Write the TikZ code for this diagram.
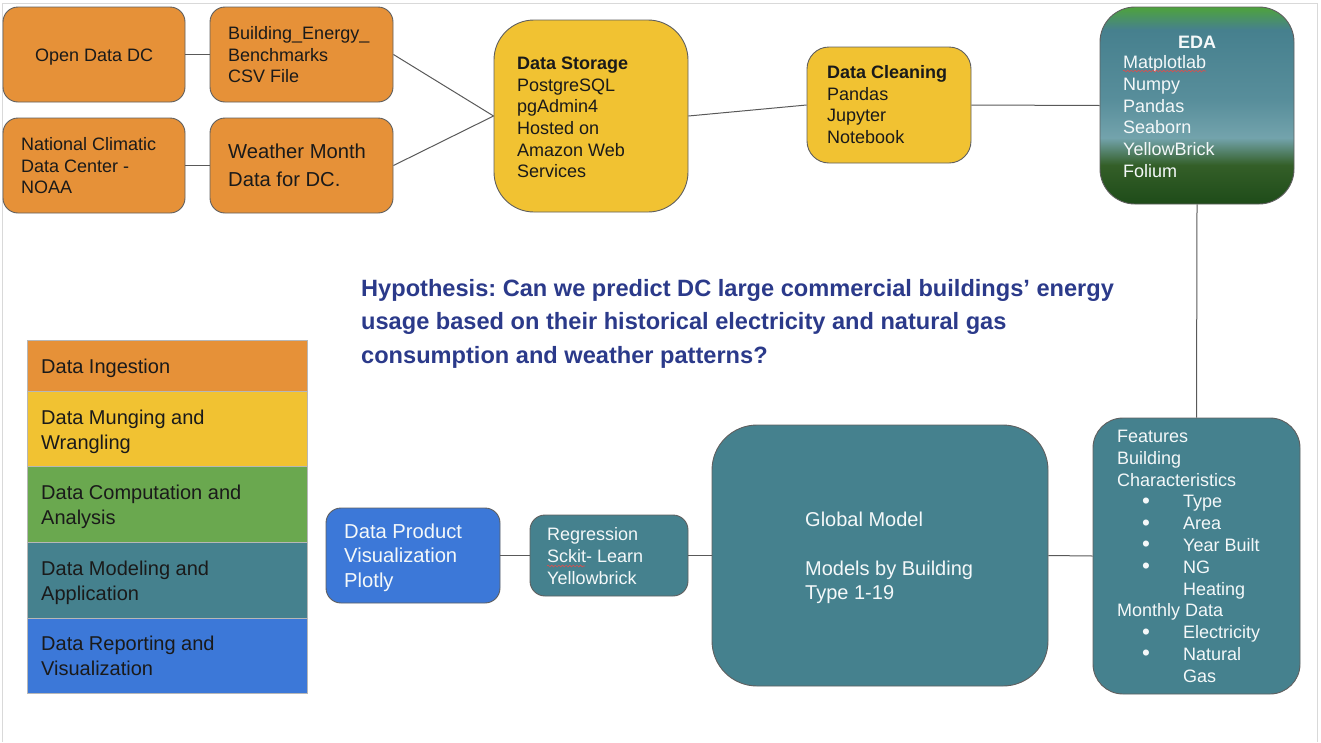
\documentclass[tikz,border=0pt]{standalone}
\usepackage{fontspec}
\setmainfont{Liberation Sans}
\usetikzlibrary{decorations.pathmorphing}
\definecolor{cOrange}{HTML}{E69138}
\definecolor{cYellow}{HTML}{F1C232}
\definecolor{cGreen}{HTML}{6AA84F}
\definecolor{cTeal}{HTML}{45818E}
\definecolor{cBlue}{HTML}{3C78D8}
\definecolor{cBorder}{HTML}{5F5F5F}
\definecolor{cLine}{HTML}{595959}
\definecolor{cHyp}{HTML}{2B3A8A}
\definecolor{cFrame}{HTML}{D9D9D9}
\definecolor{cLegBorder}{HTML}{B7B7B7}
\definecolor{cWhiteText}{HTML}{F4F8F9}
\definecolor{cDark}{HTML}{1A1A1A}
\definecolor{cSpell}{RGB}{215,80,80}
\definecolor{edaA}{RGB}{78,163,60}
\definecolor{edaB}{RGB}{70,128,142}
\definecolor{edaC}{RGB}{88,142,155}
\definecolor{edaD}{RGB}{115,163,172}
\definecolor{edaE}{RGB}{52,95,40}
\definecolor{edaF}{RGB}{30,75,25}
\pgfdeclareverticalshading{edashade}{100bp}{color(0bp)=(edaF); color(25bp)=(edaF); color(34.9bp)=(edaE); color(41.8bp)=(edaD); color(51.4bp)=(edaC); color(69.2bp)=(edaB); color(75bp)=(edaA); color(100bp)=(edaA)}
\tikzset{
  box/.style={draw=cBorder, line width=0.9pt, inner sep=0pt},
  legbox/.style={draw=cLegBorder, line width=0.8pt, inner sep=0pt, minimum width=280pt},
  conn/.style={draw=cLine, line width=1pt},
  txt/.style={anchor=base west, inner sep=0pt, text width=800pt, align=left, text=cDark,
    font=\fontsize{18}{21.7}\selectfont,
    execute at begin node={\spaceskip=0pt\xspaceskip=0pt\frenchspacing}},
  wtxt/.style={txt, text=cWhiteText},
  legtxt/.style={txt, font=\fontsize{20}{25}\selectfont},
  spell/.style={draw=cSpell, line width=0.6pt, decorate,
    decoration={snake, amplitude=0.9pt, segment length=3.6pt}}
}
\newcommand{\bul}[1]{\hspace*{25pt}\makebox[41pt][l]{\raisebox{-0.5pt}{\scalebox{1.25}{•}}}#1}
\begin{document}
\begin{tikzpicture}[x=1pt, y=-1pt]
\useasboundingbox (0,0) rectangle (1321,742);
% frame
\draw[cFrame, line width=1pt] (2.5,742) -- (2.5,3) -- (1317.5,3) -- (1317.5,742);

% ingestion boxes
\node[box, fill=cOrange, rounded corners=15pt, minimum width=182pt, minimum height=95pt] (odc) at (94,54.5) {};
\node[box, fill=cOrange, rounded corners=15pt, minimum width=183pt, minimum height=95pt] (bee) at (301.5,54.5) {};
\node[box, fill=cOrange, rounded corners=15pt, minimum width=182pt, minimum height=95pt] (ncdc) at (94,165.5) {};
\node[box, fill=cOrange, rounded corners=15pt, minimum width=183pt, minimum height=95pt] (wmd) at (301.5,165.5) {};
\node[txt] (odct) at (35,61.45) {Open Data DC};
\node[txt] (beet) at (228,39.45) {Building\_Energy\_\\Benchmarks\\CSV File};
\node[txt] (ncdct) at (21,150.45) {National Climatic\\Data Center -\\NOAA};
\node[txt, font=\fontsize{20.2}{28}\selectfont] (wmdt) at (228,158.2) {Weather Month\\Data for DC.};

% storage and cleaning
\node[box, fill=cYellow, rounded corners=40pt, minimum width=194pt, minimum height=192pt] (store) at (591,116) {};
\node[txt] (storet) at (517,69.45) {\textbf{Data Storage}\\PostgreSQL\\pgAdmin4\\Hosted on\\Amazon Web\\Services};
\node[box, fill=cYellow, rounded corners=22pt, minimum width=164pt, minimum height=116pt] (clean) at (889,105) {};
\node[txt] (cleant) at (827,78.45) {\textbf{Data Cleaning}\\Pandas\\Jupyter\\Notebook};

% EDA
\node[box, shading=edashade, rounded corners=35pt, minimum width=194pt, minimum height=197pt] (eda) at (1197,105.5) {};
\node[inner sep=0pt, anchor=base, text=cWhiteText, font=\bfseries\fontsize{18}{21.7}\selectfont] (edat) at (1197,48.4) {EDA};
\node[wtxt, font=\fontsize{18}{21.8}\selectfont] (edal) at (1123,68.45) {Matplotlab\\Numpy\\Pandas\\Seaborn\\YellowBrick\\Folium};
\draw[spell] (1123,71) -- (1206,71);

% features
\node[box, fill=cTeal, rounded corners=30pt, minimum width=207pt, minimum height=276pt] (feat) at (1196.5,556) {};
\node[wtxt, font=\fontsize{18}{21.8}\selectfont] (featt) at (1117,442.45) {Features\\Building\\Characteristics\\
\bul{Type}\\
\bul{Area}\\
\bul{Year Built}\\
\bul{NG}\\
\hspace*{66pt}Heating\\
Monthly Data\\
\bul{Electricity}\\
\bul{Natural}\\
\hspace*{66pt}Gas};

% global model
\node[box, fill=cTeal, rounded corners=45pt, minimum width=336pt, minimum height=261pt] (glob) at (880,555.5) {};
\node[wtxt, font=\fontsize{20}{24.5}\selectfont] (globt) at (805,526.16) {Global Model\\[24.5pt]Models by Building\\Type 1-19};

% regression
\node[box, fill=cTeal, rounded corners=15pt, minimum width=158pt, minimum height=81pt] (reg) at (609,555.5) {};
\node[wtxt, font=\fontsize{18}{22}\selectfont] (regt) at (547,540.45) {Regression\\Sckit- Learn\\Yellowbrick};
\draw[spell] (547,566) -- (585,566);

% data product
\node[box, fill=cBlue, rounded corners=15pt, minimum width=174pt, minimum height=95pt] (prod) at (413,555.5) {};
\node[wtxt, font=\fontsize{20.2}{24.5}\selectfont] (prodt) at (344,538.2) {Data Product\\Visualization\\Plotly};

% connectors
\draw[conn] (odc.east) -- (bee.west);
\draw[conn] (ncdc.east) -- (wmd.west);
\draw[conn] (bee.east) -- (store.west);
\draw[conn] (wmd.east) -- (store.west);
\draw[conn] (store.east) -- (clean.west);
\draw[conn] (clean.east) -- (eda.west);
\draw[conn] (eda.south) -- (feat.north);
\draw[conn] (feat.west) -- (glob.east);
\draw[conn] (glob.west) -- (reg.east);
\draw[conn] (reg.west) -- (prod.east);

% hypothesis
\node[txt, text=cHyp, font=\bfseries\fontsize{23.6}{33.5}\selectfont] (hyp) at (361,296.45) {Hypothesis: Can we predict DC large commercial buildings’ energy\\usage based on their historical electricity and natural gas\\consumption and weather patterns?};

% legend
\node[legbox, fill=cOrange, minimum height=51pt] (l1) at (167,365.5) {};
\node[legbox, fill=cYellow, minimum height=75pt] (l2) at (167,428.5) {};
\node[legbox, fill=cGreen, minimum height=76pt] (l3) at (167,504) {};
\node[legbox, fill=cTeal, minimum height=76pt] (l4) at (167,580) {};
\node[legbox, fill=cBlue, minimum height=75pt] (l5) at (167,655.5) {};
\node[legtxt] (l1t) at (41,373.16) {Data Ingestion};
\node[legtxt] (l2t) at (41,424.16) {Data Munging and\\Wrangling};
\node[legtxt] (l3t) at (41,499.16) {Data Computation and\\Analysis};
\node[legtxt] (l4t) at (41,575.16) {Data Modeling and\\Application};
\node[legtxt] (l5t) at (41,650.16) {Data Reporting and\\Visualization};
\end{tikzpicture}
\end{document}
